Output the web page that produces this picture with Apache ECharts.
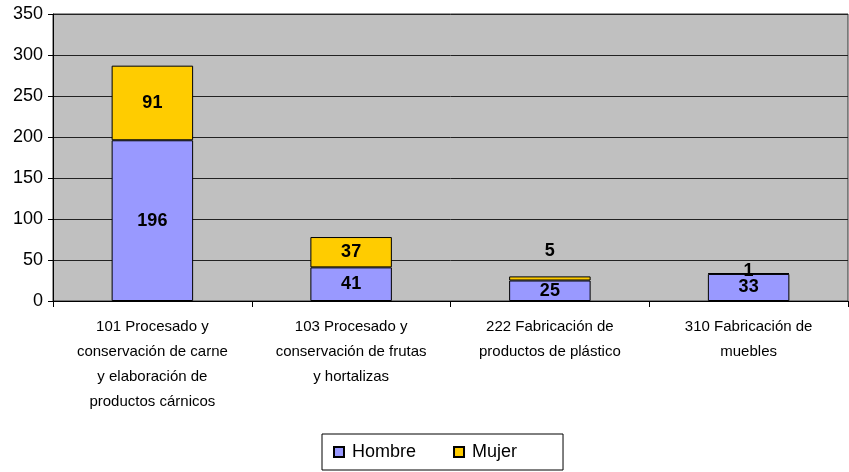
<!DOCTYPE html>
<html>
<head>
<meta charset="utf-8">
<script src="https://cdn.jsdelivr.net/npm/echarts@6/dist/echarts.min.js"></script>
<style>
  html, body { margin: 0; padding: 0; background: #fff; }
  #chart { width: 849px; height: 472px; }
</style>
</head>
<body>
<div id="chart"></div>
<script>
// datos del gráfico
const categories = [
  '101 Procesado y\nconservación de carne\ny elaboración de\nproductos cárnicos',
  '103 Procesado y\nconservación de frutas\ny hortalizas',
  '222 Fabricación de\nproductos de plástico',
  '310 Fabricación de\nmuebles'
]
const hombre = [196, 41, 25, 33]
const mujer = [91, 37, 5, 1]
const yTicks = [0, 50, 100, 150, 200, 250, 300, 350]

const chart = echarts.init(document.getElementById('chart'))

// las etiquetas pequeñas de Mujer están desplazadas a mano en el original
const mujerLabelOffset = { 2: [0, -27], 3: [0, -2] }

const labelStyle = {
  show: true,
  position: 'inside',
  color: '#000',
  fontFamily: 'Liberation Sans, Arial, sans-serif',
  fontWeight: 'bold',
  fontSize: 18
}

const option = {
  animation: false,
  grid: {
    left: 53,
    top: 14,
    right: 1,
    bottom: 171,
    show: true,
    backgroundColor: '#C0C0C0',
    borderColor: '#333',
    borderWidth: 1
  },
  legend: {
    left: 322,
    top: 434,
    padding: [9, 46, 9, 11],
    borderColor: '#000',
    borderWidth: 1,
    itemWidth: 10,
    itemHeight: 10,
    itemGap: 37,
    icon: 'rect',
    data: ['Hombre', 'Mujer'],
    textStyle: {
      color: '#000',
      fontFamily: 'Liberation Sans, Arial, sans-serif',
      fontSize: 18,
      padding: [0, 0, 0, 3]
    }
  },
  xAxis: {
    type: 'category',
    data: categories,
    axisLine: { lineStyle: { color: '#000', width: 1 } },
    axisTick: { show: true, length: 6, lineStyle: { color: '#000' } },
    axisLabel: {
      color: '#000',
      fontFamily: 'Liberation Sans, Arial, sans-serif',
      fontSize: 15,
      lineHeight: 25,
      margin: 13,
      interval: 0
    }
  },
  yAxis: {
    type: 'value',
    min: 0,
    max: 350,
    interval: 50,
    axisLine: { show: true, lineStyle: { color: '#000', width: 1 } },
    axisTick: { show: true, length: 5, lineStyle: { color: '#000' } },
    splitLine: { lineStyle: { color: '#222', width: 1 } },
    axisLabel: {
      color: '#000',
      fontFamily: 'Liberation Sans, Arial, sans-serif',
      fontSize: 18,
      margin: 10,
      formatter: v => (yTicks.includes(v) ? String(v) : '')
    }
  },
  series: [
    {
      name: 'Hombre',
      type: 'bar',
      stack: 'total',
      barWidth: '41%',
      data: hombre,
      itemStyle: { color: '#9999FF', borderColor: '#000', borderWidth: 1 },
      label: labelStyle
    },
    {
      name: 'Mujer',
      type: 'bar',
      stack: 'total',
      barWidth: '41%',
      data: mujer.map((v, i) => ({
        value: v,
        label: mujerLabelOffset[i] ? { offset: mujerLabelOffset[i] } : undefined
      })),
      itemStyle: { color: '#FFCC00', borderColor: '#000', borderWidth: 1 },
      label: labelStyle
    }
  ]
}

chart.setOption(option)
</script>
</body>
</html>
